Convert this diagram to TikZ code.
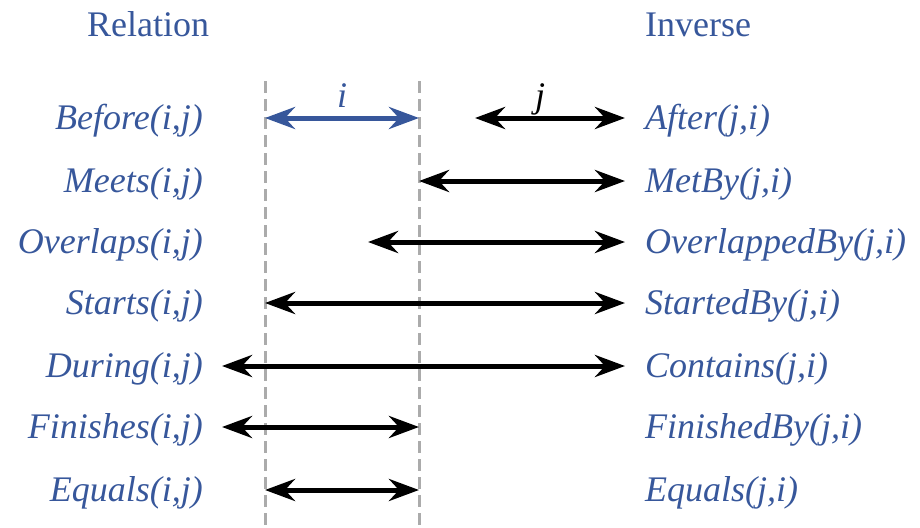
\documentclass[tikz,border=0pt]{standalone}
\usepackage{fontspec}
\setmainfont{Liberation Serif}
\usetikzlibrary{arrows.meta}
\definecolor{relblue}{RGB}{55,87,155}

\begin{document}
\begin{tikzpicture}[x=1pt, y=-1pt,
    heading/.style={font=\fontsize{36}{40}\selectfont, text=relblue, inner sep=0pt},
    lbl/.style={font=\fontsize{36}{40}\selectfont\itshape, text=relblue, inner sep=0pt},
    span/.style={line width=5pt, {Stealth[length=30pt,width=22pt,inset=10pt]}-{Stealth[length=30pt,width=22pt,inset=10pt]}},
    guide/.style={draw=black!33, line width=3pt, dash pattern=on 12pt off 6pt}]
    \useasboundingbox (0,0) rectangle (920,527);

    % 标题
    \node[heading, anchor=base] (relation) at (148,37) {Relation};
    \node[heading, anchor=base west] (inverse) at (645,37) {Inverse};

    % 关系
    \node[lbl, anchor=base east] (before) at (203,129) {Before(i,j)};
    \node[lbl, anchor=base east] (meets) at (203,192) {Meets(i,j)};
    \node[lbl, anchor=base east] (overlaps) at (203,253) {Overlaps(i,j)};
    \node[lbl, anchor=base east] (starts) at (203,314) {Starts(i,j)};
    \node[lbl, anchor=base east] (during) at (203,377) {During(i,j)};
    \node[lbl, anchor=base east] (finishes) at (203,438) {Finishes(i,j)};
    \node[lbl, anchor=base east] (equals) at (203,501) {Equals(i,j)};

    % 逆关系
    \node[lbl, anchor=base west] (after) at (645,129) {After(j,i)};
    \node[lbl, anchor=base west] (metby) at (645,192) {MetBy(j,i)};
    \node[lbl, anchor=base west] (overlappedby) at (645,253) {OverlappedBy(j,i)};
    \node[lbl, anchor=base west] (startedby) at (645,314) {StartedBy(j,i)};
    \node[lbl, anchor=base west] (contains) at (645,377) {Contains(j,i)};
    \node[lbl, anchor=base west] (finishedby) at (645,438) {FinishedBy(j,i)};
    \node[lbl, anchor=base west] (equalsinv) at (645,501) {Equals(j,i)};

    % 区间 i 的边界
    \coordinate (istart-top) at (265,81);
    \coordinate (istart-bot) at (265,527);
    \coordinate (iend-top) at (419,81);
    \coordinate (iend-bot) at (419,527);
    \draw[guide] (istart-top) -- (istart-bot);
    \draw[guide] (iend-top) -- (iend-bot);

    % 端点
    \coordinate (i-a) at (265,118);   \coordinate (i-b) at (419,118);
    \coordinate (after-a) at (475,118); \coordinate (after-b) at (625,118);
    \coordinate (meets-a) at (419,181); \coordinate (meets-b) at (625,181);
    \coordinate (overlaps-a) at (368,242); \coordinate (overlaps-b) at (625,242);
    \coordinate (starts-a) at (265,303); \coordinate (starts-b) at (625,303);
    \coordinate (during-a) at (222,366); \coordinate (during-b) at (625,366);
    \coordinate (finishes-a) at (222,427); \coordinate (finishes-b) at (419,427);
    \coordinate (equals-a) at (265,490); \coordinate (equals-b) at (419,490);

    % 区间
    \draw[span, relblue] (i-a) -- (i-b);
    \draw[span] (after-a) -- (after-b);
    \draw[span] (meets-a) -- (meets-b);
    \draw[span] (overlaps-a) -- (overlaps-b);
    \draw[span] (starts-a) -- (starts-b);
    \draw[span] (during-a) -- (during-b);
    \draw[span] (finishes-a) -- (finishes-b);
    \draw[span] (equals-a) -- (equals-b);

    % 区间名
    \node[lbl, anchor=base] (ilabel) at (342,107) {i};
    \node[lbl, anchor=base, text=black] (jlabel) at (540,107) {j};
\end{tikzpicture}
\end{document}
